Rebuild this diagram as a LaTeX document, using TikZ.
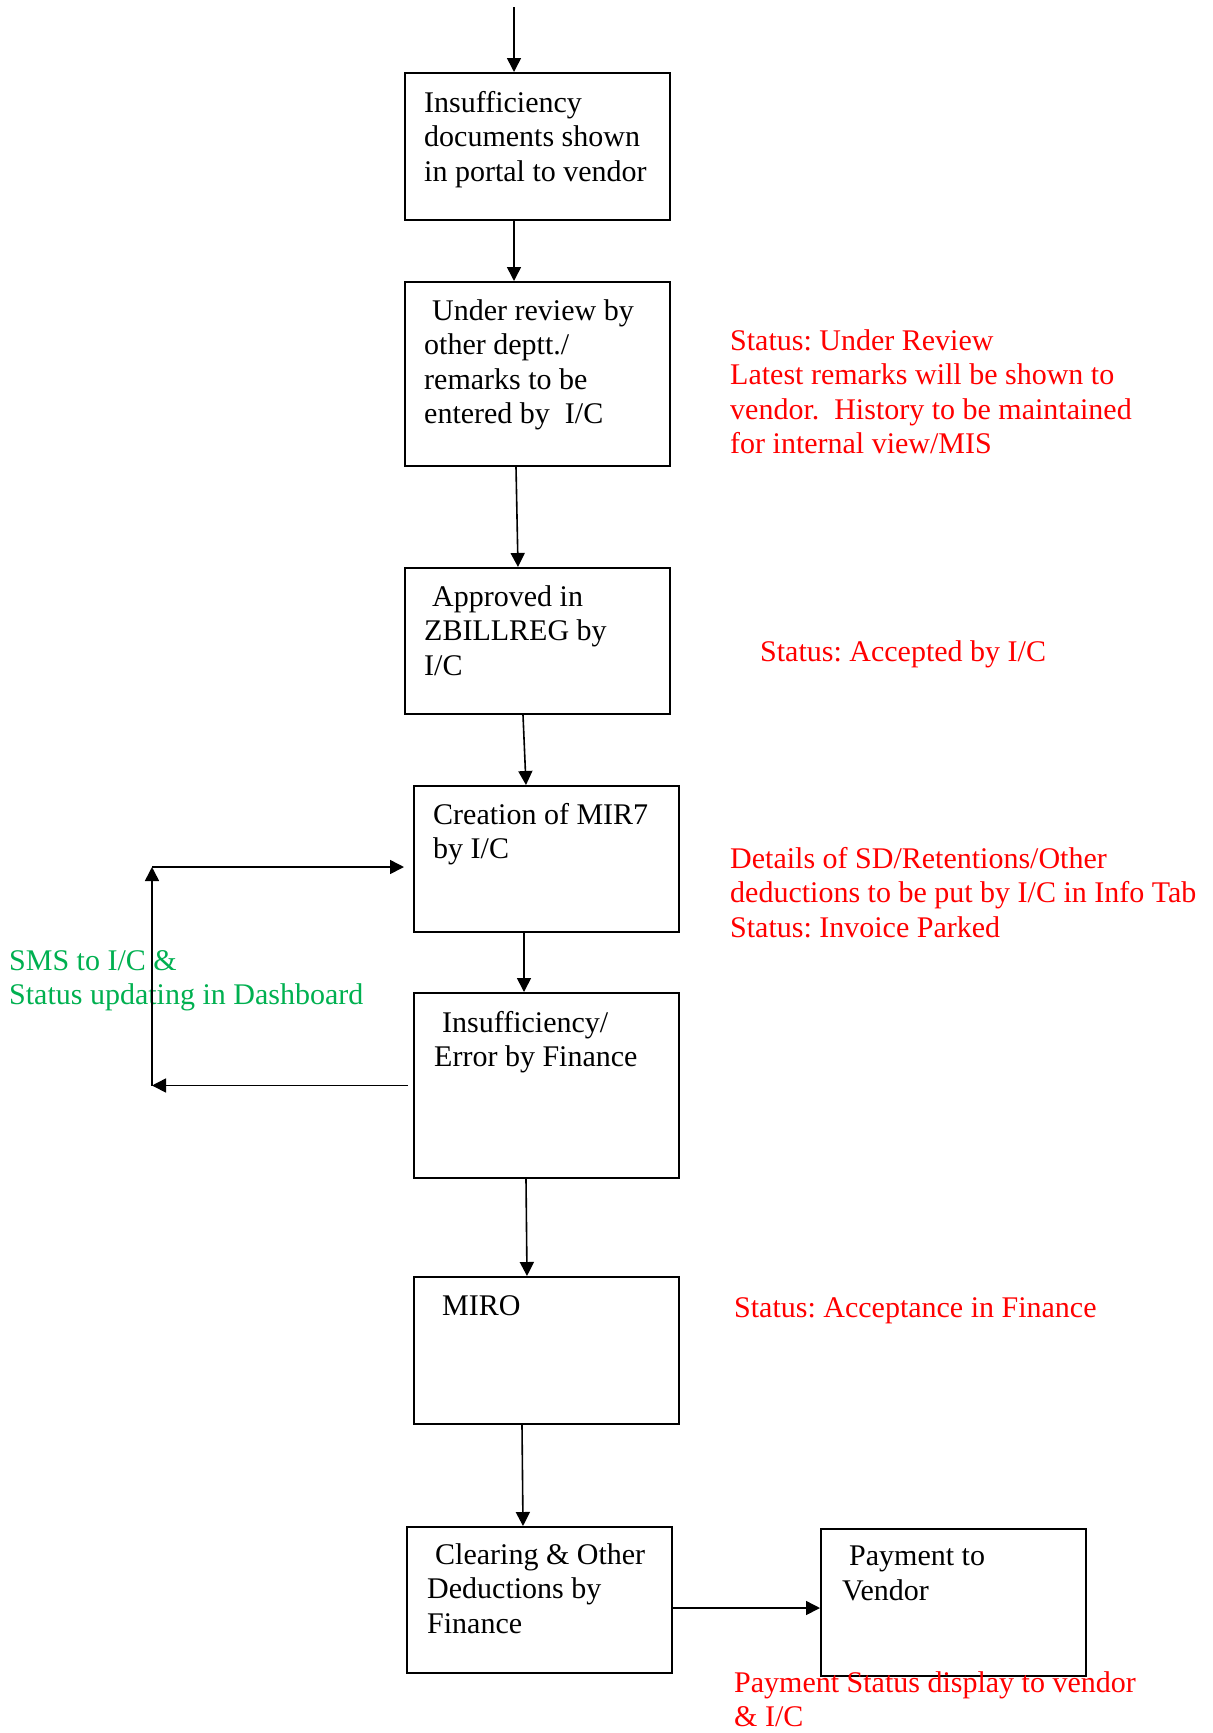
\documentclass[tikz,border=0pt]{standalone}
\usepackage{fontspec}
\setmainfont{Liberation Serif}
\usetikzlibrary{arrows.meta}
\definecolor{statusred}{RGB}{255,0,0}
\definecolor{smsgreen}{RGB}{0,176,80}
\tikzset{
  box/.style={draw, line width=2pt, minimum width=265pt, inner sep=0pt},
  txt/.style={anchor=north west, inner sep=0pt, align=left, font=\fontsize{30}{34.5}\selectfont\frenchspacing},
  flow/.style={-{Triangle[length=14pt,width=14pt]}, line width=1.6pt},
}

\begin{document}
\begin{tikzpicture}[x=1pt,y=-1pt]
\useasboundingbox (0,0) rectangle (1213,1733);
% boxes
\node(b1) at (537.5,146.5)[box,minimum height=147pt]{};
\node(b2) at (537.5,374)[box,minimum height=184pt]{};
\node(b3) at (537.5,641)[box,minimum height=146pt]{};
\node(b4) at (546.5,859)[box,minimum height=146pt]{};
\node(b5) at (546.5,1085.5)[box,minimum height=185pt]{};
\node(b6) at (546.5,1350.5)[box,minimum height=147pt]{};
\node(b7) at (539.5,1600)[box,minimum height=146pt]{};
\node(b8) at (953.5,1602.5)[box,minimum height=147pt]{};
% text in boxes
\node(t1) at ([shift={(20,19)}]b1.north west)[txt]{Insufficiency\\documents shown\\in portal to vendor};
\node(t2) at ([shift={(20,18)}]b2.north west)[txt]{\hspace*{8pt}Under review by\\other deptt./\\remarks to be\\entered by\ \ I/C};
\node(t3) at ([shift={(20,18)}]b3.north west)[txt]{\hspace*{8pt}Approved in\\ZBILLREG by\\I/C};
\node(t4) at ([shift={(20,18)}]b4.north west)[txt]{Creation of MIR7\\by I/C};
\node(t5) at ([shift={(21,19)}]b5.north west)[txt]{\hspace*{8pt}Insufficiency/\\Error by Finance};
\node(t6) at ([shift={(29,19)}]b6.north west)[txt]{MIRO};
\node(t7) at ([shift={(21,17)}]b7.north west)[txt]{\hspace*{8pt}Clearing \& Other\\Deductions by\\Finance};
\node(t8) at ([shift={(22,18)}]b8.north west)[txt]{\hspace*{7pt}Payment to\\Vendor};
% status notes
\node(s2) at (730,329)[txt,text=statusred]{Status: Under Review\\Latest remarks will be shown to\\vendor.\ \ History to be maintained\\for internal view/MIS};
\node(s3) at (760,640)[txt,text=statusred]{Status: Accepted by I/C};
\node(s4) at (730,847)[txt,text=statusred]{Details of SD/Retentions/Other\\deductions to be put by I/C in Info Tab\\Status: Invoice Parked};
\node(s6) at (734,1297)[txt,text=statusred]{Status: Acceptance in Finance};
\node(s8) at (734,1671)[txt,text=statusred]{Payment Status display to vendor\\\& I/C};
\node(sms) at (9,950)[txt,text=smsgreen]{SMS to I/C \&\\Status updating in Dashboard};
% connectors
\coordinate(in) at (514,7);
\coordinate(lp1) at (152,1085.5);
\coordinate(lp2) at (152,867);
\path [flow]
  (in)                            edge ([xshift=-23.5pt]b1.north)
  ([xshift=-23.5pt]b1.south)      edge ([xshift=-23.5pt]b2.north)
  ([xshift=-21.5pt]b2.south)      edge ([xshift=-19.5pt]b3.north)
  ([xshift=-14.5pt]b3.south)      edge ([xshift=-20.5pt]b4.north)
  ([xshift=-22.5pt]b4.south)      edge ([xshift=-22.5pt]b5.north)
  ([xshift=-20.5pt]b5.south)      edge ([xshift=-19.5pt]b6.north)
  ([xshift=-24.5pt]b6.south)      edge ([xshift=-16.5pt]b7.north)
  ([yshift=-8pt]b7.east)          edge ([yshift=-5.5pt]b8.west)
  ([xshift=-5pt]b5.west)          edge (lp1)
  (lp1)                           edge (lp2)
  (lp2)                           edge ([xshift=-9pt,yshift=-8pt]b4.west);
\end{tikzpicture}
\end{document}
